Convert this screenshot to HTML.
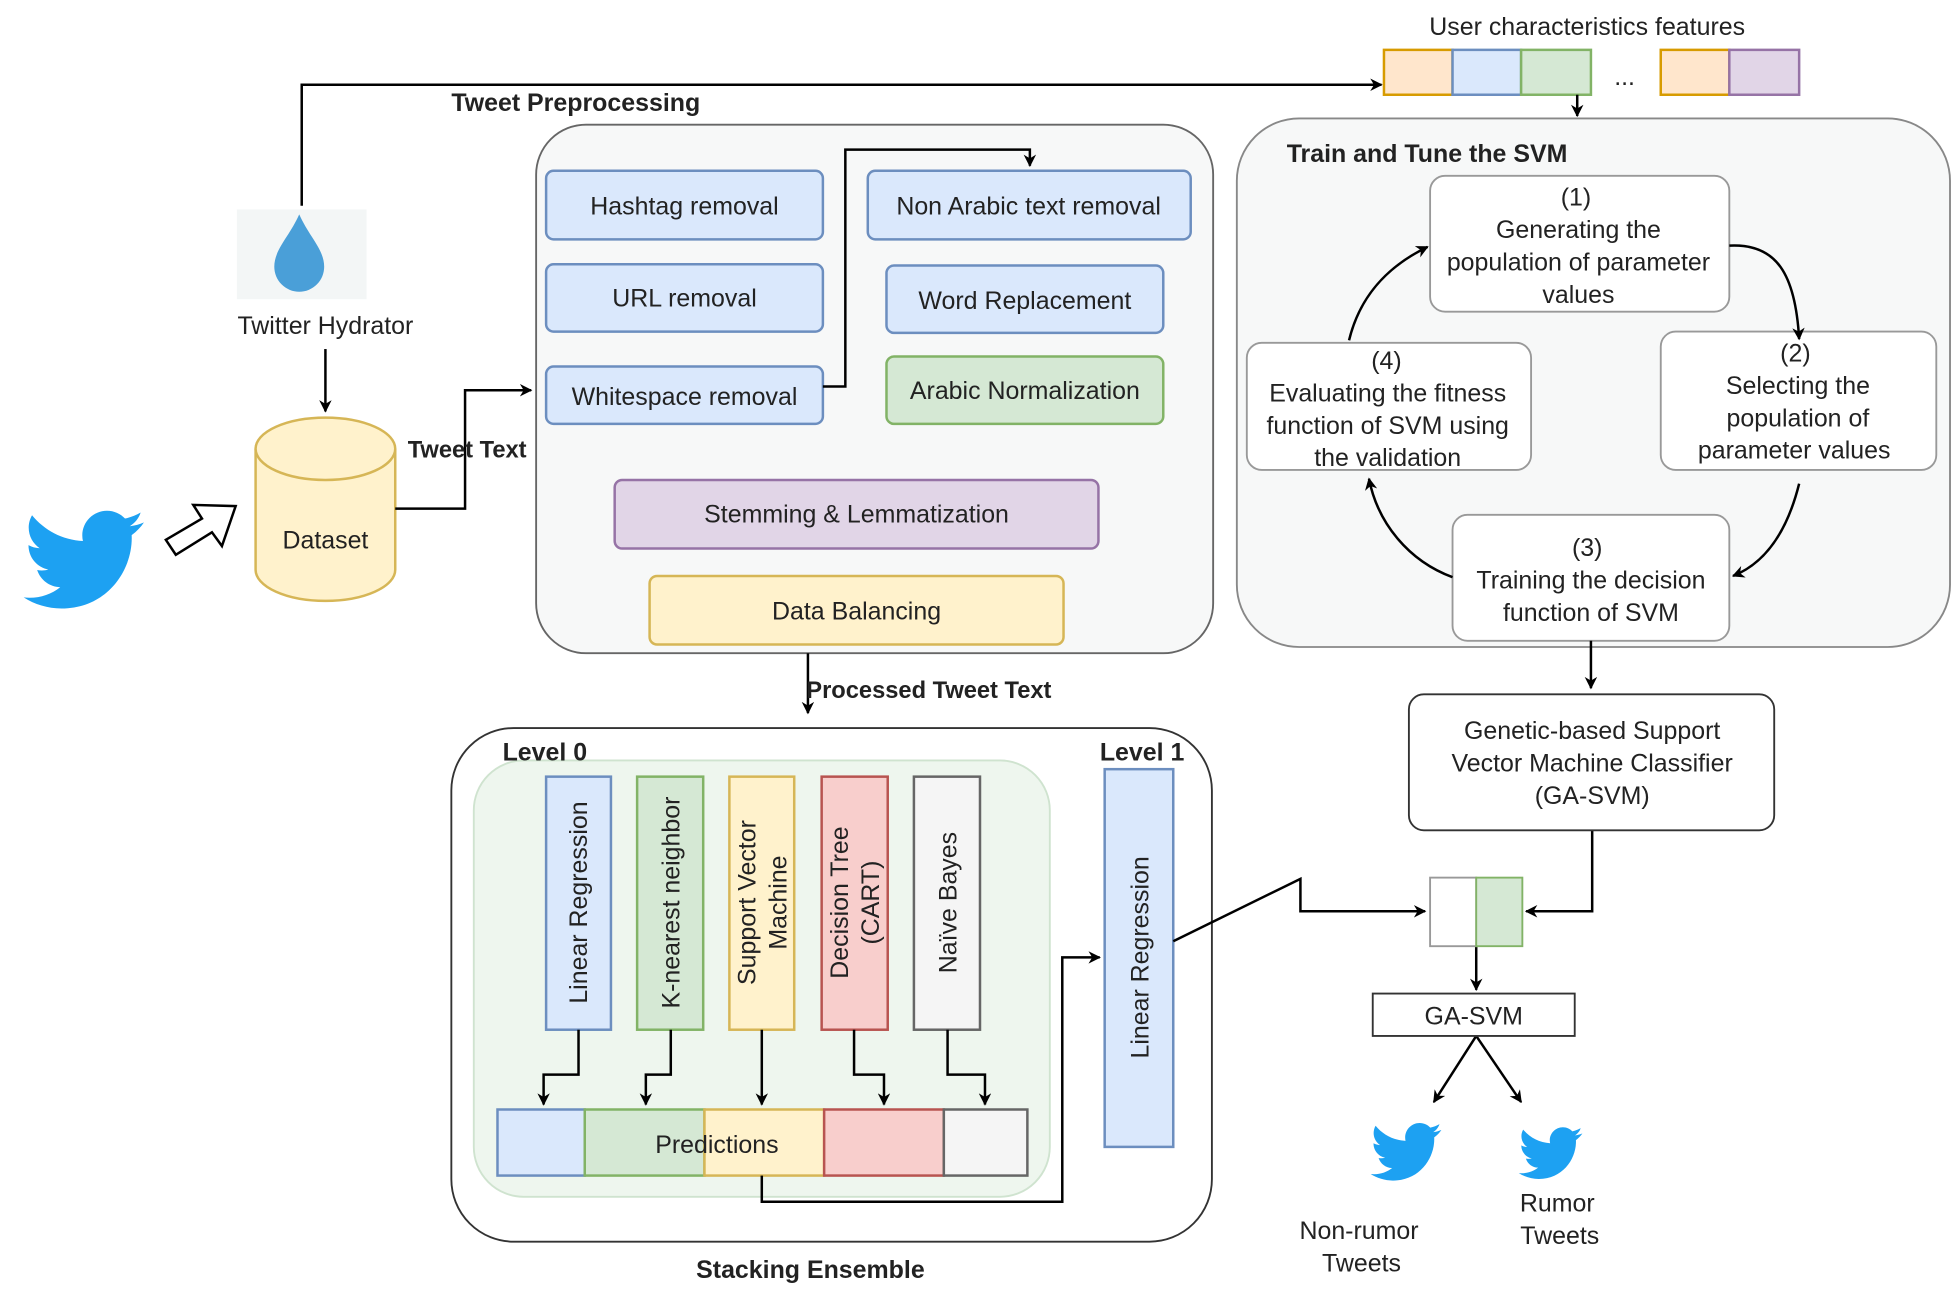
<!DOCTYPE html>
<html><head><meta charset="utf-8"><style>html,body{margin:0;padding:0;background:#fff}svg{display:block}text{font-family:"Liberation Sans",sans-serif;font-size:20px;fill:#222}</style></head><body>
<svg width="1955" height="1294" viewBox="0 0 1568 1038" preserveAspectRatio="none" xmlns="http://www.w3.org/2000/svg">
<defs>
<marker id="a" markerWidth="10" markerHeight="10" refX="9" refY="5" orient="auto" markerUnits="userSpaceOnUse"><path d="M0,0 L10,5 L0,10 L3,5 z" fill="#000"/></marker>
<symbol id="bird" viewBox="0 0 24 24"><path fill="#1da1f2" d="M23.643 4.937c-.835.37-1.732.62-2.675.733.962-.576 1.7-1.49 2.048-2.578-.9.534-1.897.922-2.958 1.13-.85-.904-2.06-1.47-3.4-1.47-2.572 0-4.658 2.086-4.658 4.66 0 .364.042.718.12 1.06-3.873-.195-7.304-2.050-9.602-4.868-.4.69-.63 1.49-.63 2.342 0 1.616.823 3.043 2.072 3.878-.764-.025-1.482-.234-2.11-.583v.06c0 2.257 1.605 4.140 3.737 4.568-.392.106-.803.162-1.227.162-.3 0-.593-.028-.877-.082.593 1.85 2.313 3.198 4.352 3.234-1.595 1.25-3.604 1.995-5.786 1.995-.376 0-.747-.022-1.112-.065 2.062 1.323 4.51 2.093 7.14 2.093 8.57 0 13.255-7.098 13.255-13.254 0-.2-.005-.402-.014-.602.91-.658 1.7-1.477 2.323-2.41z"/></symbol>
</defs>
<text x="1273" y="28" text-anchor="middle">User characteristics features</text>
<rect x="1110" y="40" width="55" height="36" fill="#ffe6cc" stroke="#d79b00" stroke-width="2"/>
<rect x="1165" y="40" width="55" height="36" fill="#dae8fc" stroke="#6c8ebf" stroke-width="2"/>
<rect x="1220" y="40" width="56" height="36" fill="#d5e8d4" stroke="#82b366" stroke-width="2"/>
<text x="1303" y="68" text-anchor="middle">...</text>
<rect x="1332" y="40" width="55" height="36" fill="#ffe6cc" stroke="#d79b00" stroke-width="2"/>
<rect x="1387" y="40" width="56" height="36" fill="#e1d5e7" stroke="#9673a6" stroke-width="2"/>
<g fill="none" stroke="#000" stroke-width="2">
<path d="M242,165 V68 H1108" marker-end="url(#a)"/>
<path d="M1265,76 V93" marker-end="url(#a)"/>
</g>
<text x="362" y="89" style="font-weight:bold">Tweet Preprocessing</text>
<rect x="430" y="100" width="543" height="424" rx="40" fill="#f7f8f8" stroke="#666" stroke-width="1.5"/>
<g stroke-width="2">
<rect x="438" y="137" width="222" height="55" rx="6" fill="#dae8fc" stroke="#6c8ebf"/>
<rect x="438" y="212" width="222" height="54" rx="6" fill="#dae8fc" stroke="#6c8ebf"/>
<rect x="438" y="294" width="222" height="46" rx="6" fill="#dae8fc" stroke="#6c8ebf"/>
<rect x="696" y="137" width="259" height="55" rx="6" fill="#dae8fc" stroke="#6c8ebf"/>
<rect x="711" y="213" width="222" height="54" rx="6" fill="#dae8fc" stroke="#6c8ebf"/>
<rect x="711" y="286" width="222" height="54" rx="6" fill="#d5e8d4" stroke="#82b366"/>
<rect x="493" y="385" width="388" height="55" rx="6" fill="#e1d5e7" stroke="#9673a6"/>
<rect x="521" y="462" width="332" height="55" rx="6" fill="#fff2cc" stroke="#d6b656"/>
</g>
<g text-anchor="middle">
<text x="549" y="172">Hashtag removal</text>
<text x="549" y="246">URL removal</text>
<text x="549" y="325">Whitespace removal</text>
<text x="825" y="172">Non Arabic text removal</text>
<text x="822" y="248">Word Replacement</text>
<text x="822" y="320">Arabic Normalization</text>
<text x="687" y="419">Stemming &amp; Lemmatization</text>
<text x="687" y="497">Data Balancing</text>
</g>
<path d="M660,310 H678 V120 H826 V133" fill="none" stroke="#000" stroke-width="2" marker-end="url(#a)"/>
<rect x="190" y="168" width="104" height="72" fill="#f3f6f6"/>
<path d="M240,172 C232,190 220,200 220,214 A20,20 0 0 0 260,214 C260,200 248,190 240,172 z" fill="#4a9fd8"/>
<text x="261" y="268" text-anchor="middle">Twitter Hydrator</text>
<path d="M261,280 V330" fill="none" stroke="#000" stroke-width="2" marker-end="url(#a)"/>
<path d="M205,360 V457 A56,25 0 0 0 317,457 V360" fill="#fff2cc" stroke="#d6b656" stroke-width="2"/>
<ellipse cx="261" cy="360" rx="56" ry="25" fill="#fff2cc" stroke="#d6b656" stroke-width="2"/>
<text x="261" y="440" text-anchor="middle">Dataset</text>
<path d="M317,408 H373 V313 H426" fill="none" stroke="#000" stroke-width="2" marker-end="url(#a)"/>
<text x="327" y="367" style="font-weight:bold;font-size:19px">Tweet Text</text>
<use href="#bird" x="15" y="398" width="102" height="102"/>
<path d="M133,433 L162,416 L155,405 L189,406 L178,438 L170,427 L141,445 z" fill="#fff" stroke="#000" stroke-width="2"/>
<path d="M648,524 V572" fill="none" stroke="#000" stroke-width="2" marker-end="url(#a)"/>
<text x="745" y="560" text-anchor="middle" style="font-weight:bold;font-size:19px">Processed Tweet Text</text>
<rect x="362" y="584" width="610" height="412" rx="50" fill="#fff" stroke="#333" stroke-width="1.5"/>
<rect x="380" y="610" width="462" height="350" rx="40" fill="#eef6ee" stroke="#cfe3cf" stroke-width="1.5"/>
<text x="437" y="610" text-anchor="middle" style="font-weight:bold">Level 0</text>
<text x="916" y="610" text-anchor="middle" style="font-weight:bold">Level 1</text>
<g stroke-width="2">
<rect x="438" y="623" width="52" height="203" fill="#dae8fc" stroke="#6c8ebf"/>
<rect x="511" y="623" width="53" height="203" fill="#d5e8d4" stroke="#82b366"/>
<rect x="585" y="623" width="52" height="203" fill="#fff2cc" stroke="#d6b656"/>
<rect x="659" y="623" width="53" height="203" fill="#f8cecc" stroke="#b85450"/>
<rect x="733" y="623" width="53" height="203" fill="#f5f5f5" stroke="#666"/>
<rect x="399" y="890" width="70" height="53" fill="#dae8fc" stroke="#6c8ebf"/>
<rect x="469" y="890" width="96" height="53" fill="#d5e8d4" stroke="#82b366"/>
<rect x="565" y="890" width="96" height="53" fill="#fff2cc" stroke="#d6b656"/>
<rect x="661" y="890" width="96" height="53" fill="#f8cecc" stroke="#b85450"/>
<rect x="757" y="890" width="67" height="53" fill="#f5f5f5" stroke="#666"/>
<rect x="886" y="617" width="55" height="303" fill="#dae8fc" stroke="#6c8ebf"/>
</g>
<text x="575" y="925" text-anchor="middle">Predictions</text>
<g text-anchor="middle">
<text transform="translate(471,724) rotate(-90)">Linear Regression</text>
<text transform="translate(545,724) rotate(-90)">K-nearest neighbor</text>
<text transform="translate(606,724) rotate(-90)">Support Vector</text>
<text transform="translate(631,724) rotate(-90)">Machine</text>
<text transform="translate(680,724) rotate(-90)">Decision Tree</text>
<text transform="translate(705,724) rotate(-90)">(CART)</text>
<text transform="translate(767,724) rotate(-90)">Naïve Bayes</text>
<text transform="translate(921,768) rotate(-90)">Linear Regression</text>
</g>
<g fill="none" stroke="#000" stroke-width="2">
<path d="M464,826 V862 H436 V886" marker-end="url(#a)"/>
<path d="M538,826 V862 H518 V886" marker-end="url(#a)"/>
<path d="M611,826 V886" marker-end="url(#a)"/>
<path d="M685,826 V862 H709 V886" marker-end="url(#a)"/>
<path d="M760,826 V862 H790 V886" marker-end="url(#a)"/>
<path d="M611,943 V964 H852 V768 H882" marker-end="url(#a)"/>
<path d="M941,755 L1043,705 V731 H1143" marker-end="url(#a)"/>
</g>
<text x="650" y="1025" text-anchor="middle" style="font-weight:bold">Stacking Ensemble</text>
<rect x="992" y="95" width="572" height="424" rx="50" fill="#f7f8f8" stroke="#888" stroke-width="1.5"/>
<text x="1032" y="130" style="font-weight:bold">Train and Tune the SVM</text>
<g fill="#fff" stroke="#999" stroke-width="1.5">
<rect x="1147" y="141" width="240" height="109" rx="12"/>
<rect x="1332" y="266" width="221" height="111" rx="12"/>
<rect x="1000" y="275" width="228" height="102" rx="12"/>
<rect x="1165" y="413" width="222" height="101" rx="12"/>
</g>
<g text-anchor="middle">
<text x="1264" y="165">(1)</text><text x="1266" y="191">Generating the</text><text x="1266" y="217">population of parameter</text><text x="1266" y="243">values</text>
<text x="1440" y="290">(2)</text><text x="1442" y="316">Selecting the</text><text x="1442" y="342">population of</text><text x="1439" y="368">parameter values</text>
<text x="1112" y="296">(4)</text><text x="1113" y="322">Evaluating the fitness</text><text x="1113" y="348">function of SVM using</text><text x="1113" y="374">the validation</text>
<text x="1273" y="446">(3)</text><text x="1276" y="472">Training the decision</text><text x="1276" y="498">function of SVM</text>
</g>
<g fill="none" stroke="#000" stroke-width="2">
<path d="M1387,197 C1425,195 1440,220 1443,272" marker-end="url(#a)"/>
<path d="M1443,388 C1435,420 1420,450 1390,462" marker-end="url(#a)"/>
<path d="M1165,463 C1130,450 1105,420 1098,384" marker-end="url(#a)"/>
<path d="M1082,273 C1090,240 1110,215 1145,198" marker-end="url(#a)"/>
<path d="M1276,514 V552" marker-end="url(#a)"/>
<path d="M1277,666 V731 H1224" marker-end="url(#a)"/>
<path d="M1184,759 V794" marker-end="url(#a)"/>
<path d="M1184,831 L1150,884" marker-end="url(#a)"/>
<path d="M1184,831 L1220,884" marker-end="url(#a)"/>
</g>
<rect x="1130" y="557" width="293" height="109" rx="12" fill="#fff" stroke="#333" stroke-width="1.5"/>
<g text-anchor="middle">
<text x="1277" y="593">Genetic-based Support</text><text x="1277" y="619">Vector Machine Classifier</text><text x="1277" y="645">(GA-SVM)</text>
</g>
<rect x="1147" y="704" width="37" height="55" fill="#fff" stroke="#999" stroke-width="1.5"/>
<rect x="1184" y="704" width="37" height="55" fill="#d5e8d4" stroke="#82b366" stroke-width="1.5"/>
<rect x="1101" y="797" width="162" height="34" fill="#fff" stroke="#333" stroke-width="1.5"/>
<text x="1182" y="822" text-anchor="middle">GA-SVM</text>
<use href="#bird" x="1097" y="894" width="60" height="60"/>
<use href="#bird" x="1216" y="898" width="54" height="54"/>
<g text-anchor="middle">
<text x="1090" y="994">Non-rumor</text><text x="1092" y="1020">Tweets</text>
<text x="1249" y="972">Rumor</text><text x="1251" y="998">Tweets</text>
</g>
</svg>
</body></html>
